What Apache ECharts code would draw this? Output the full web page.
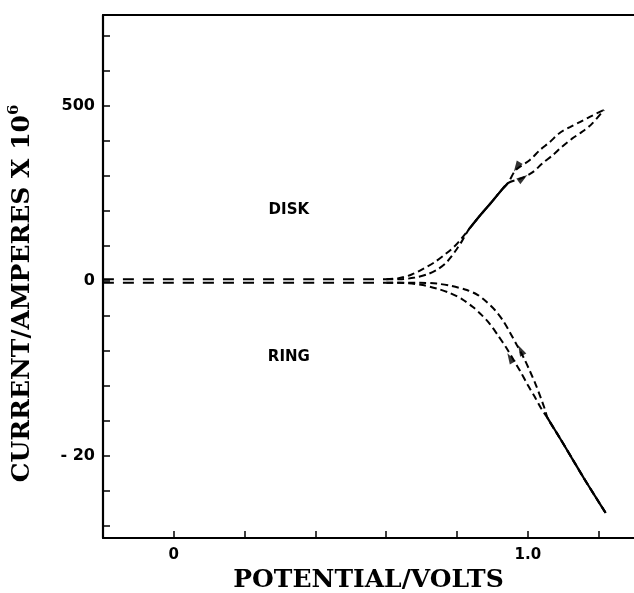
<!DOCTYPE html>
<html><head><meta charset="utf-8">
<script src="https://cdn.jsdelivr.net/npm/echarts@6/dist/echarts.min.js"></script>
<style>html,body{margin:0;padding:0;background:#fff}#c{width:634px;height:593px}</style>
</head><body><div id="c"></div>
<script>
// ---- data (potential in V, current in A x 10^6) ----
const baseV      = [-0.2, 0.6];
const diskBaseI  = [5, 5];
const ringBaseI  = [-0.2, -0.2];

const diskA_V = [0.6, 0.638, 0.672, 0.703, 0.737, 0.771, 0.794, 0.814];
const diskA_I = [5, 8.6, 18.6, 34, 54, 80, 100, 123];
const diskB_V = [0.6, 0.638, 0.681, 0.718, 0.746, 0.768, 0.785, 0.799, 0.814, 0.825];
const diskB_I = [5, 5, 10, 20, 34, 51, 71, 91, 114, 134];
const diskMid_V = [0.836, 0.864, 0.893, 0.921, 0.944];
const diskMid_I = [151, 186, 220, 254, 280];
const diskAtop_V = [0.966, 1.006, 1.034, 1.062, 1.090, 1.119, 1.147, 1.175, 1.215];
const diskAtop_I = [317, 346, 374, 397, 423, 440, 454, 469, 489];
const diskBtop_V = [0.983, 1.014, 1.042, 1.071, 1.096, 1.124, 1.153, 1.181, 1.215];
const diskBtop_I = [294, 311, 337, 360, 383, 406, 426, 449, 489];

const ringL_V = [0.6, 0.638, 0.672, 0.703, 0.743, 0.780, 0.814, 0.845, 0.870, 0.893, 0.915, 0.938, 0.960, 0.980, 1.000, 1.020, 1.037];
const ringL_I = [-0.2, -0.2, -0.29, -0.46, -0.86, -1.37, -2.06, -2.97, -3.89, -4.91, -6.17, -7.54, -9.03, -10.4, -11.89, -13.26, -14.51];
const ringR_V = [0.6, 0.695, 0.743, 0.785, 0.828, 0.859, 0.884, 0.907, 0.929, 0.949, 0.969, 0.989, 1.006, 1.023, 1.037, 1.048];
const ringR_I = [-0.2, -0.2, -0.29, -0.57, -1.03, -1.60, -2.40, -3.31, -4.46, -5.83, -7.31, -8.80, -10.29, -11.89, -13.37, -14.63];
const ringMid_V = [1.056, 1.090, 1.124, 1.158, 1.192, 1.220];
const ringMid_I = [-15.66, -17.9, -20.2, -22.5, -24.7, -26.5];

const diskArrowV = [0.969, 0.986];
const diskArrowI = [326, 294];
const diskArrowRot = [148, -55];
const ringArrowV = [0.950, 0.980];
const ringArrowI = [-8.8, -7.9];
const ringArrowRot = [30, 27];

const labelNames = ['DISK', 'RING'];
const labelV = [0.325, 0.325];
const diskLabelI = 203;
const ringLabelI = -8.7;

const xTickLabels = {'0': '0', '1': '1.0'};
const yTickValues = [-7, -6, -5, -4, -3, -2, -1, 0, 1, 2, 3, 4, 5, 6, 7];
const yTickPos = [5, 0, -5];
const yTickText = ['500', '0', '- 20'];

// disk axis: 100 per tick; ring axis: 4 per tick
const diskScale = 100, ringScale = 4;
const toDisk = i => i / diskScale;
const toRing = i => i / ringScale;

function pts(vs, is, f) {
  const out = [];
  for (let k = 0; k < vs.length; k++) out.push([vs[k], f(is[k])]);
  return out;
}
const BLACK = '#000';
function dashed(data, dash) {
  return {type: 'line', data, symbol: 'none', smooth: 0.3, silent: true,
    lineStyle: {color: BLACK, width: 2, type: dash}};
}
function solid(data) {
  return {type: 'line', data, symbol: 'none', smooth: 0.3, silent: true,
    lineStyle: {color: BLACK, width: 2.2, type: 'solid'}};
}

const curveDash = [7, 4];
const baseDash = [11, 9];
const diskAll_A = pts(diskA_V, diskA_I, toDisk).concat(pts(diskMid_V, diskMid_I, toDisk), pts(diskAtop_V, diskAtop_I, toDisk));
const diskAll_B = pts(diskB_V, diskB_I, toDisk).concat(pts(diskMid_V, diskMid_I, toDisk), pts(diskBtop_V, diskBtop_I, toDisk));
const ringAll_L = pts(ringL_V, ringL_I, toRing).concat(pts(ringMid_V, ringMid_I, toRing));
const ringAll_R = pts(ringR_V, ringR_I, toRing).concat(pts(ringMid_V, ringMid_I, toRing));

const arrows = [];
for (let k = 0; k < diskArrowV.length; k++)
  arrows.push({value: [diskArrowV[k], toDisk(diskArrowI[k])], symbolRotate: diskArrowRot[k]});
for (let k = 0; k < ringArrowV.length; k++)
  arrows.push({value: [ringArrowV[k], toRing(ringArrowI[k])], symbolRotate: ringArrowRot[k]});

const labelPts = [
  {value: [labelV[0], toDisk(diskLabelI)], name: labelNames[0]},
  {value: [labelV[1], toRing(ringLabelI)], name: labelNames[1]}
];

const chart = echarts.init(document.getElementById('c'), null, {renderer: 'canvas'});
chart.setOption({
  animation: false,
  backgroundColor: '#fff',
  grid: {left: 103, right: 0, top: 15, bottom: 55, containLabel: false, outerBoundsMode: 'none'},
  xAxis: [{
    type: 'value', min: -0.2, max: 1.3, interval: 0.2,
    axisLine: {show: true, onZero: false, lineStyle: {color: BLACK, width: 2}},
    axisTick: {show: true, inside: true, length: 7, lineStyle: {color: BLACK, width: 1.5}},
    splitLine: {show: false},
    axisLabel: {
      margin: 10, color: BLACK, fontFamily: 'DejaVu Sans', fontWeight: 'bold', fontSize: 15,
      showMinLabel: true, showMaxLabel: false,
      formatter: v => { const r = Math.round(v * 10) / 10; return xTickLabels[String(r)] || ''; }
    },
    name: 'POTENTIAL/VOLTS', nameLocation: 'middle', nameGap: 28,
    nameTextStyle: {fontFamily: 'DejaVu Serif', fontWeight: 'bold', fontSize: 25, color: BLACK}
  }, {
    type: 'value', position: 'top', min: -0.2, max: 1.3,
    axisLine: {show: true, onZero: false, lineStyle: {color: BLACK, width: 1.8}},
    axisTick: {show: false}, axisLabel: {show: false}, splitLine: {show: false}
  }],
  yAxis: [{
    type: 'value', min: -7.34, max: 7.6,
    axisLine: {show: true, onZero: false, lineStyle: {color: BLACK, width: 2.2}},
    axisTick: {show: true, inside: true, length: 7, customValues: yTickValues,
      lineStyle: {color: BLACK, width: 1.5}},
    splitLine: {show: false},
    axisLabel: {
      margin: 8, color: BLACK, fontFamily: 'DejaVu Sans', fontWeight: 'bold', fontSize: 16,
      customValues: yTickPos,
      formatter: v => {
        const r = Math.round(v * 100) / 100;
        const idx = yTickPos.indexOf(r);
        return idx >= 0 ? yTickText[idx] : '';
      }
    },
    name: 'CURRENT/AMPERES X 10{sup|6}', nameLocation: 'middle', nameGap: 66,
    nameTextStyle: {fontFamily: 'DejaVu Serif', fontWeight: 'bold', fontSize: 25, color: BLACK,
      padding: [0, 34, 0, 0],
      rich: {sup: {fontFamily: 'DejaVu Serif', fontSize: 15, fontWeight: 'bold', color: BLACK, verticalAlign: 'top', lineHeight: 30}}}
  }],
  series: [
    dashed(pts(baseV, diskBaseI, toDisk), baseDash),
    dashed(pts(baseV, ringBaseI, toRing), baseDash),
    dashed(diskAll_A, curveDash),
    dashed(diskAll_B, curveDash),
    dashed(ringAll_L, curveDash),
    dashed(ringAll_R, curveDash),
    solid(pts(diskMid_V, diskMid_I, toDisk)),
    solid(pts(ringMid_V, ringMid_I, toRing)),
    {type: 'scatter', data: arrows, symbol: 'triangle', symbolSize: [7, 11], silent: true,
      itemStyle: {color: BLACK}},
    {type: 'scatter', data: labelPts, symbolSize: 1, silent: true,
      itemStyle: {color: '#fff', opacity: 1},
      label: {show: true, position: 'inside', formatter: p => p.name, color: BLACK,
        textBorderWidth: 0, textBorderColor: 'transparent', opacity: 1,
        fontFamily: 'DejaVu Sans', fontWeight: 'bold', fontSize: 15}}
  ]
});
</script>
</body></html>
